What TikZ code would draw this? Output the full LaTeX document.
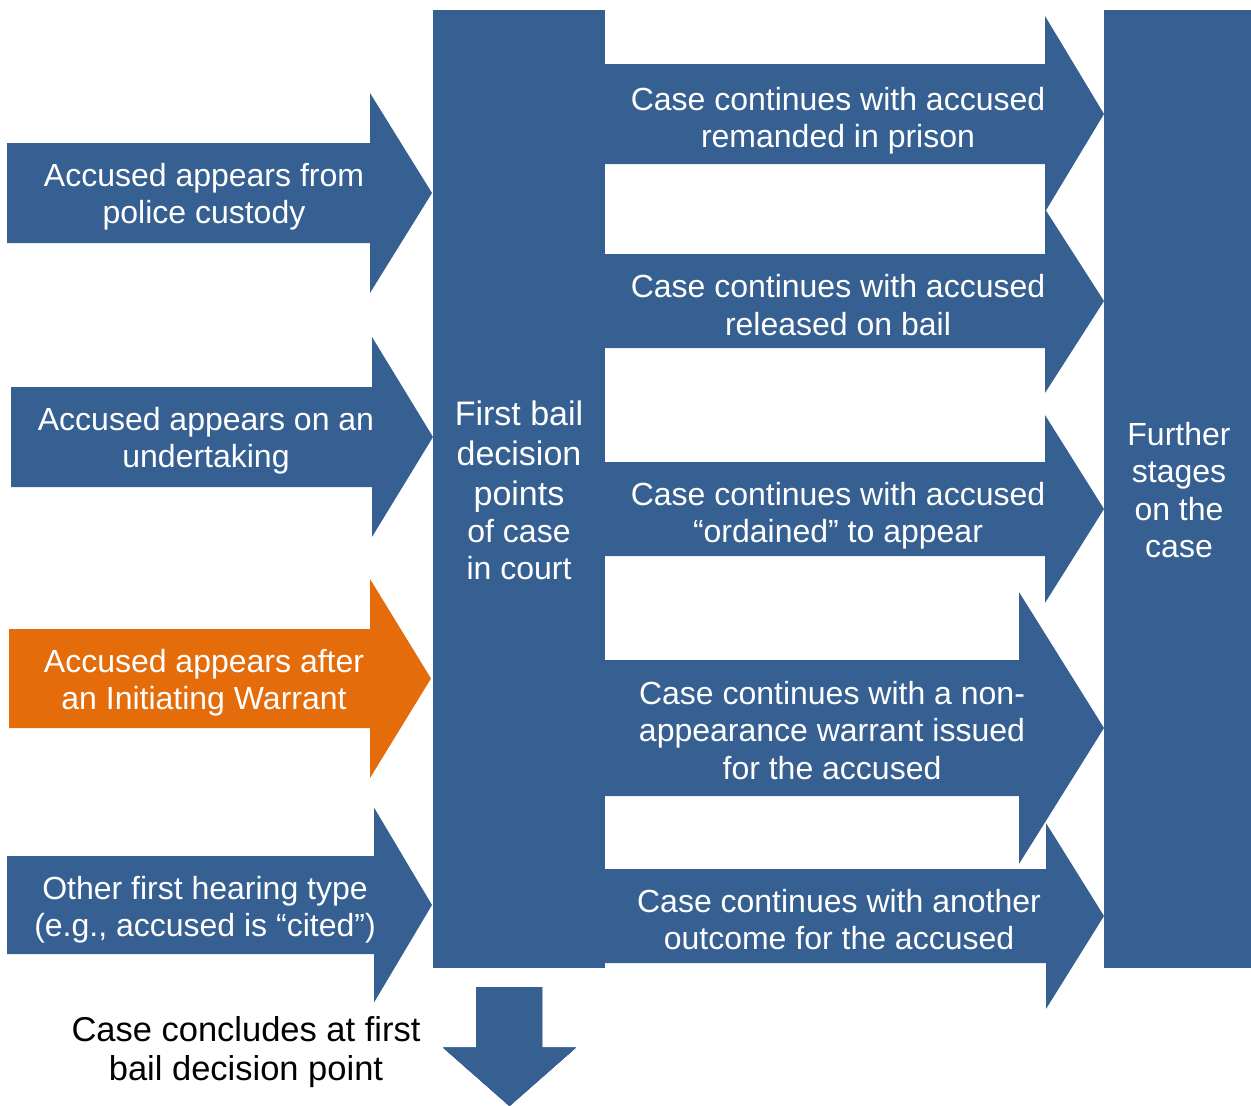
\documentclass[tikz,border=0pt]{standalone}
\usepackage{fontspec}
\setmainfont{Liberation Sans}
\usepackage{xcolor}
\usepackage{tikz}
\definecolor{bailBlue}{HTML}{376092}
\definecolor{bailOrange}{HTML}{E46C0A}
\newcommand{\blockarrow}[7][bailBlue]{%
  \fill[#1] (#2,#5-#6) -- (#3,#5-#6) -- (#3,#5-#7) -- (#4,#5)
    -- (#3,#5+#7) -- (#3,#5+#6) -- (#2,#5+#6) -- cycle;}

\begin{document}
\begin{tikzpicture}[
  x=1pt, y=-1pt,
  lbl/.style={text=white, align=center, inner sep=0pt, yshift=-3.5pt,
              font=\fontsize{32}{37.5}\selectfont},
  biglbl/.style={lbl, font=\fontsize{34}{40}\selectfont},
]
\useasboundingbox (0,0) rectangle (1251,1106);
\fill[bailBlue] (433,10) rectangle (605,968);
\fill[bailBlue] (1104,10) rectangle (1251,968);

\blockarrow{7}{370}{432}{193}{50}{100}
\blockarrow{11}{372}{433}{437}{50}{100}
\blockarrow[bailOrange]{9}{370}{431}{678.5}{49.5}{99.5}
\blockarrow{7}{374}{432}{905}{49}{97.5}
\foreach \y/\bh/\hh/\nx in {114/50/98/1045, 301/47/92/1045, 509/47/94/1045, 728/68/136/1019, 916/47/93/1046}
  \blockarrow{605}{\nx}{1104}{\y}{\bh}{\hh}
\fill[bailBlue] (476,987) -- (542,987) -- (542,1047.5) -- (576,1047.5) -- (509.5,1106)
  -- (443,1047.5) -- (476,1047.5) -- cycle;

\node[lbl] (fromcustody) at (204,193) {Accused appears from\\police custody};
\node[lbl] (undertaking) at (206,437) {Accused appears on an\\undertaking};
\node[lbl] (initwarrant) at (204,679) {Accused appears after\\an Initiating Warrant};
\node[lbl] (otherhearing) at (205,906) {Other first hearing type\\(e.g., accused is “cited”)};
\node[biglbl] (firstbail) at (519,453) {First bail\\decision\\points};
\node[lbl] (incourt) at (519,546) {of case\\in court};
\node[lbl] (further) at (1179,486.5) {Further\\stages\\on the\\case};
\node[lbl] (remanded) at (838,117) {Case continues with accused\\remanded in prison};
\node[lbl] (released) at (838,301.5) {Case continues with accused\\released on bail};
\node[lbl] (ordained) at (838,512) {Case continues with accused\\“ordained” to appear};
\node[lbl] (nonappear) at (832,727) {Case continues with a non-\\appearance warrant issued\\for the accused};
\node[lbl] (another) at (839,916) {Case continues with another\\outcome for the accused};
\node[lbl, text=black, font=\fontsize{34.5}{39}\selectfont] (concludes) at (246,1048.5)
  {Case concludes at first\\bail decision point};
\end{tikzpicture}
\end{document}
